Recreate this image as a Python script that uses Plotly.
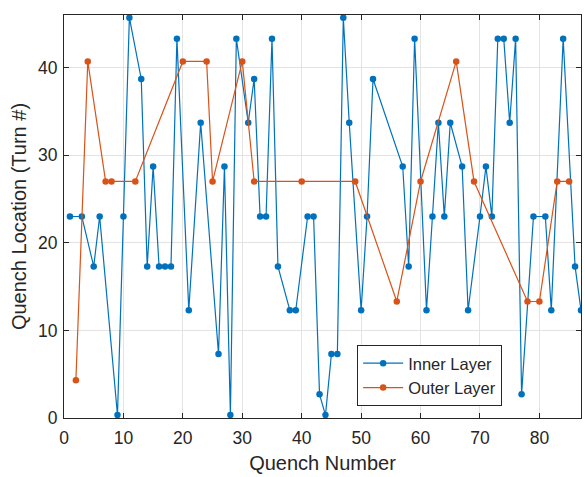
import plotly.graph_objects as go

# Quench index and turn location for each layer
inner_quench = [1, 3, 5, 6, 9, 10, 11, 13, 14, 15, 16, 17, 18, 19, 21, 23, 26, 27, 28, 29,
                31, 32, 33, 34, 35, 36, 38, 39, 41, 42, 43, 44, 45, 46, 47, 48, 50, 51, 52,
                57, 58, 59, 61, 62, 63, 64, 65, 67, 68, 70, 71, 72, 73, 74, 75, 76, 77, 79,
                81, 82, 84, 86, 87]
inner_turn = [23, 23, 17.3, 23, 0.33, 23, 45.7, 38.7, 17.3, 28.7, 17.3, 17.3, 17.3, 43.3,
              12.3, 33.7, 7.3, 28.7, 0.33, 43.3, 33.7, 38.7, 23, 23, 43.3, 17.3, 12.3, 12.3,
              23, 23, 2.7, 0.33, 7.3, 7.3, 45.7, 33.7, 12.3, 23, 38.7, 28.7, 17.3, 43.3,
              12.3, 23, 33.7, 23, 33.7, 28.7, 12.3, 23, 28.7, 23, 43.3, 43.3, 33.7, 43.3,
              2.7, 23, 23, 12.3, 43.3, 17.3, 12.3]

outer_quench = [2, 4, 7, 8, 12, 20, 24, 25, 30, 32, 40, 49, 56, 60, 66, 69, 78, 80, 83, 85]
outer_turn = [4.3, 40.7, 27, 27, 27, 40.7, 40.7, 27, 40.7, 27, 27, 27, 13.3, 27, 40.7, 27,
              13.3, 13.3, 27, 27]

x_ticks = [0, 10, 20, 30, 40, 50, 60, 70, 80]
y_ticks = [0, 10, 20, 30, 40]

BLUE = "#0072BD"
ORANGE = "#D95319"
INK = "#262626"
FONT = "Liberation Sans, Arial, sans-serif"

fig = go.Figure()
fig.add_trace(go.Scatter(
    x=inner_quench, y=inner_turn, mode="lines+markers", name="Inner Layer",
    line=dict(color=BLUE, width=1.2), marker=dict(color=BLUE, size=6.5),
))
fig.add_trace(go.Scatter(
    x=outer_quench, y=outer_turn, mode="lines+markers", name="Outer Layer",
    line=dict(color=ORANGE, width=1.2), marker=dict(color=ORANGE, size=6.5),
))

axis_common = dict(
    showgrid=True, gridcolor="#E3E3E3", gridwidth=1,
    showline=True, linecolor=INK, linewidth=1, mirror="ticks",
    ticks="inside", ticklen=5, tickcolor=INK, tickwidth=1,
    zeroline=False, tickfont=dict(family=FONT, size=17.5, color=INK),
)

fig.update_layout(
    width=585, height=477,
    margin=dict(l=64, r=4, t=15, b=59),
    paper_bgcolor="white", plot_bgcolor="white",
    font=dict(family=FONT, color=INK),
    xaxis=dict(range=[0, 87], tickvals=x_ticks, ticklabelstandoff=4,
               title=dict(text="Quench Number", font=dict(size=20, color=INK), standoff=8),
               **axis_common),
    yaxis=dict(range=[0, 46], tickvals=y_ticks, ticklabelstandoff=2,
               title=dict(text="Quench Location (Turn #)", font=dict(size=20, color=INK), standoff=6),
               **axis_common),
    legend=dict(x=0.567, y=0.03, xanchor="left", yanchor="bottom",
                bgcolor="white", bordercolor=INK, borderwidth=1,
                font=dict(family=FONT, size=16.5, color=INK),
                tracegroupgap=0, itemwidth=40),
    showlegend=True,
)

fig.write_html("out.html")
